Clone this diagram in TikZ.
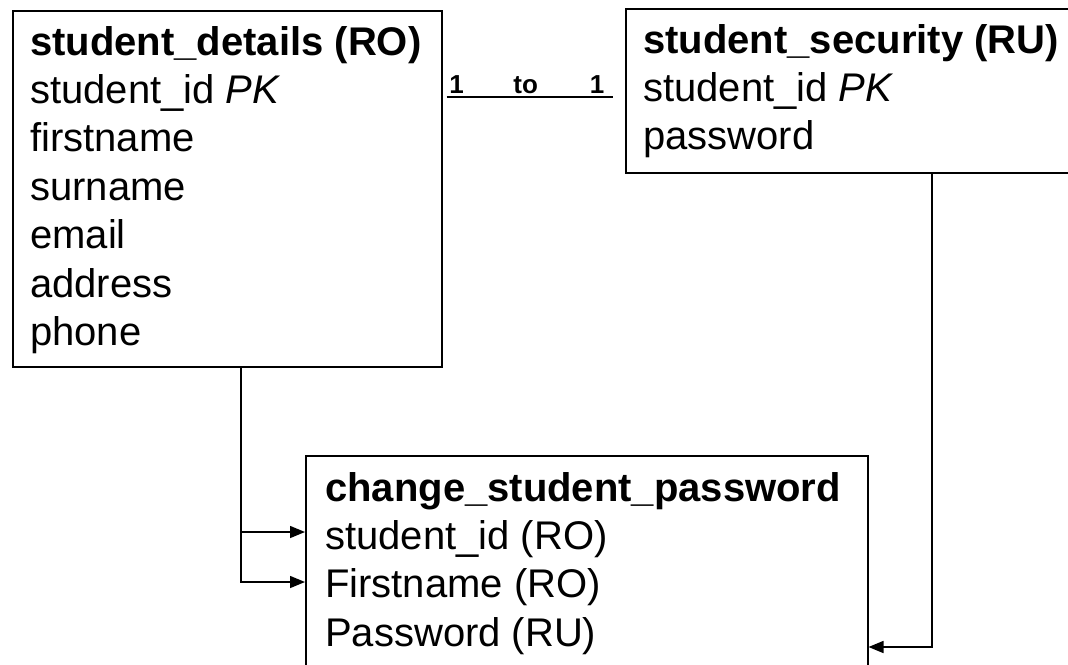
\documentclass[tikz,border=0pt]{standalone}
\usepackage{fontspec}
\setmainfont{Liberation Sans}
\usetikzlibrary{arrows.meta}
\tikzset{
  entity/.style={draw, line width=1.5pt, anchor=north west, inner sep=0pt},
  field/.style={anchor=base west, inner sep=0pt, font=\fontsize{40}{48}\selectfont},
  card/.style={inner sep=0pt, anchor=base, yshift=4pt, font=\fontsize{26}{28}\selectfont\bfseries},
  conn/.style={line width=1.5pt, -{Triangle[length=15pt,width=12pt]}},
}
\begin{document}
\begin{tikzpicture}[x=1pt,y=-1pt]
  \useasboundingbox (0,0) rectangle (1068,664);
  % tables
  \node[entity, minimum width=429pt, minimum height=356pt] (details) at (12,10) {};
  \node[entity, minimum width=480pt, minimum height=164pt] (security) at (625,8) {};
  \node[entity, minimum width=562pt, minimum height=240pt] (change) at (305,455) {};
  % fields
  \foreach \f [count=\i] in {{\bfseries student\_details (RO)}, student\_id \textit{PK},
      firstname, surname, email, address, phone}
    \path (details.north west) ++(18,{45+48.4*(\i-1)}) node[field] (details-\i) {\f};
  \foreach \f [count=\i] in {{\bfseries student\_security (RU)}, student\_id \textit{PK}, password}
    \path (security.north west) ++(18,{45+48.4*(\i-1)}) node[field] (security-\i) {\f};
  \foreach \f [count=\i] in {{\bfseries change\_student\_password}, student\_id (RO),
      Firstname (RO), Password (RU)}
    \path (change.north west) ++(20,{46+48.4*(\i-1)}) node[field] (change-\i) {\f};
  % 1 to 1
  \path (details.north east) ++(4,87) coordinate (relL);
  \path (security.north west) ++(-12,89) coordinate (relR);
  \draw[line width=1.5pt] (relL) -- (relR)
    node[card, pos=0.06] (card-l) {1}
    node[card, pos=0.476] (card-to) {to}
    node[card, pos=0.905] (card-r) {1};
  % data flow
  \path (details.south west) ++(229,0) coordinate (dtlOut);
  \path (security.south west) ++(307,0) coordinate (secOut);
  \path (change.north west) ++(0,77) coordinate (chgIn1);
  \path (change.north west) ++(0,127) coordinate (chgIn2);
  \path (change.north east) ++(0,192) coordinate (chgIn3);
  \draw[conn] (dtlOut) |- (chgIn1);
  \draw[conn] (dtlOut) |- (chgIn2);
  \draw[conn] (secOut) |- (chgIn3);
\end{tikzpicture}
\end{document}
